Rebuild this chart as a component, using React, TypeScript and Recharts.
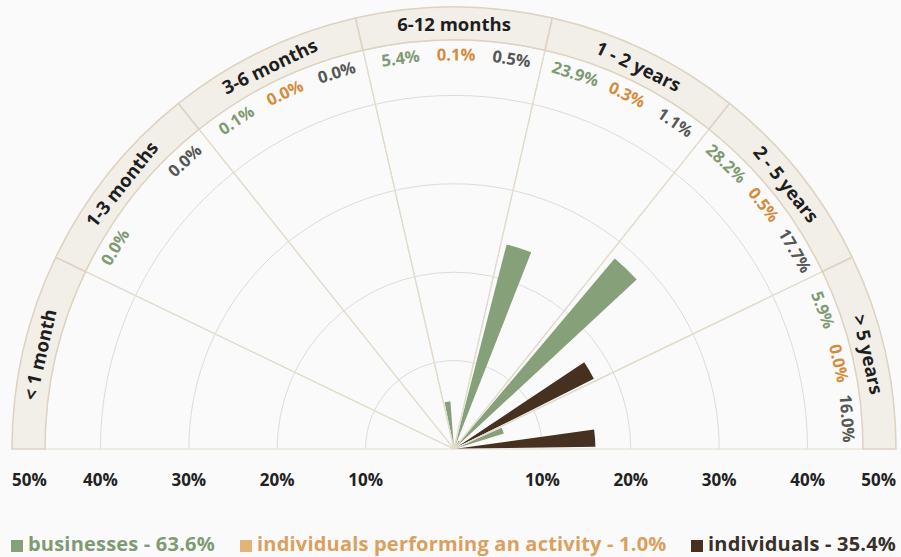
import React from 'react';
import {
  RadialBarChart,
  RadialBar,
  PolarGrid,
  PolarAngleAxis,
  PolarRadiusAxis,
  LabelList,
  PieChart,
  Pie,
} from 'recharts';

// ---- data ----
const categories = ['< 1 month', '1-3 months', '3-6 months', '6-12 months', '1 - 2 years', '2 - 5 years', '> 5 years'];
const businesses = [null, 0.0, 0.1, 5.4, 23.9, 28.2, 5.9];
const activity = [null, null, 0.0, 0.1, 0.3, 0.5, 0.0];
const individuals = [null, 0.0, 0.0, 0.5, 1.1, 17.7, 16.0];
const radiusTicks = [10, 20, 30, 40, 50];
const legendLabels = ['businesses - 63.6%', 'individuals performing an activity - 1.0%', 'individuals - 35.4%'];

// ---- layout / style ----
const W = 901;
const H = 500;
const CX = 454;
const CY = 449;
const R_OUT = 442;
const R_BAND_IN = 409;
const R_VALUE = 395;
const FONT = "'Open Sans', 'Noto Sans', sans-serif";
// angular width of one category sector; the bar chart's angle range is
// offset by one sector so that the first category band starts at 0°
const STEP = 180 / categories.length;

const C_GREEN = '#86a07a';
const C_ORANGE = '#e2b47c';
const C_DARK = '#46301f';
const T_GREEN = '#7f9b73';
const T_ORANGE = '#d68b3a';
const T_DARK = '#575757';

// bars are laid out on an ascending angle range, so the category order
// is reversed for the bar chart (">5 years" sits next to 0°)
const data = categories
  .map((cat, i) => ({
    cat,
    businesses: businesses[i],
    activity: activity[i],
    individuals: individuals[i],
  }))
  .reverse();
const bandData = categories.map((name) => ({ name, share: 1 }));

const RadiusTick = (props: any) => {
  const { x, y, payload } = props;
  const v = payload?.value;
  if (!v) return <g />;
  const dx = x - CX;
  const edge = v === 50;
  const style = { fontFamily: FONT, fontWeight: 700, fontSize: 17, fill: '#222' } as any;
  return (
    <g>
      <text x={x} y={y + 30} textAnchor={edge ? 'end' : 'middle'} dominantBaseline="central" style={style}>
        {`${v}%`}
      </text>
      <text x={CX - dx} y={y + 30} textAnchor={edge ? 'start' : 'middle'} dominantBaseline="central" style={style}>
        {`${v}%`}
      </text>
    </g>
  );
};

const makeValueLabel = (color: string) => (p: any) => {
  const { viewBox, value } = p;
  if (value === null || value === undefined || !viewBox) return null;
  const mid = (viewBox.startAngle + viewBox.endAngle) / 2;
  const a = (mid * Math.PI) / 180;
  const x = viewBox.cx + R_VALUE * Math.cos(a);
  const y = viewBox.cy - R_VALUE * Math.sin(a);
  return (
    <text
      x={x}
      y={y}
      transform={`rotate(${90 - mid} ${x} ${y})`}
      textAnchor="middle"
      dominantBaseline="central"
      style={{ fontFamily: FONT, fontWeight: 700, fontSize: 16.5, fill: color }}
    >
      {`${Number(value).toFixed(1)}%`}
    </text>
  );
};

const CategoryLabel = (p: any) => {
  const r = (p.innerRadius + p.outerRadius) / 2;
  const mid = p.midAngle;
  const a = (mid * Math.PI) / 180;
  const x = p.cx + r * Math.cos(a);
  const y = p.cy - r * Math.sin(a);
  const name = p.name ?? p.payload?.name;
  return (
    <text
      x={x}
      y={y}
      transform={`rotate(${90 - mid} ${x} ${y})`}
      textAnchor="middle"
      dominantBaseline="central"
      style={{ fontFamily: FONT, fontWeight: 700, fontSize: 18.5, fill: '#1e1e1e' }}
    >
      {name}
    </text>
  );
};

const legendColors = [
  { box: C_GREEN, text: T_GREEN, left: 11 },
  { box: C_ORANGE, text: '#d9a05e', left: 240 },
  { box: C_DARK, text: '#3a3029', left: 691 },
];

export default function App() {
  return (
    <div style={{ position: 'absolute', left: 0, top: 0, width: 901, height: 557, background: '#fafafa', overflow: 'hidden' }}>
      <div style={{ position: 'absolute', left: 0, top: 0 }}>
        <RadialBarChart
          width={W}
          height={H}
          data={data}
          layout="centric"
          cx={CX}
          cy={CY}
          innerRadius={0}
          outerRadius={R_OUT}
          startAngle={STEP}
          endAngle={180 + STEP}
          barCategoryGap="3.7%"
          barGap={1.1}
          margin={{ top: 0, right: 0, bottom: 0, left: 0 }}
        >
          <defs>
            <clipPath id="upperHalf">
              <rect x={0} y={0} width={W} height={CY} />
            </clipPath>
          </defs>
          <PolarAngleAxis type="category" dataKey="cat" tick={false} axisLine={false} tickLine={false} />
          <PolarRadiusAxis
            type="number"
            domain={[0, 50]}
            ticks={radiusTicks}
            tickCount={6}
            angle={0}
            axisLine={false}
            tickLine={false}
            tick={<RadiusTick />}
          />
          <PolarGrid gridType="circle" radialLines={false} stroke="#dcdcdc" clipPath="url(#upperHalf)" />
          <RadialBar dataKey="individuals" fill={C_DARK} isAnimationActive={false}>
            <LabelList dataKey="individuals" content={makeValueLabel(T_DARK)} />
          </RadialBar>
          <RadialBar dataKey="activity" fill={C_ORANGE} isAnimationActive={false}>
            <LabelList dataKey="activity" content={makeValueLabel(T_ORANGE)} />
          </RadialBar>
          <RadialBar dataKey="businesses" fill={C_GREEN} isAnimationActive={false}>
            <LabelList dataKey="businesses" content={makeValueLabel(T_GREEN)} />
          </RadialBar>
        </RadialBarChart>
      </div>
      <div style={{ position: 'absolute', left: 0, top: 0, pointerEvents: 'none' }}>
        <PieChart width={W} height={H} margin={{ top: 0, right: 0, bottom: 0, left: 0 }}>
          <Pie
            data={bandData}
            dataKey="share"
            nameKey="name"
            cx={CX}
            cy={CY}
            innerRadius={0}
            outerRadius={R_BAND_IN}
            startAngle={180}
            endAngle={0}
            fill="none"
            stroke="#e3dccd"
            strokeWidth={1.2}
            isAnimationActive={false}
          />
          <Pie
            data={bandData}
            dataKey="share"
            nameKey="name"
            cx={CX}
            cy={CY}
            innerRadius={R_BAND_IN}
            outerRadius={R_OUT}
            startAngle={180}
            endAngle={0}
            fill="#f2eee8"
            stroke="#ddd3c0"
            strokeWidth={1.5}
            label={CategoryLabel}
            labelLine={false}
            isAnimationActive={false}
          />
        </PieChart>
      </div>
      {legendLabels.map((label, i) => (
        <div
          key={label}
          style={{
            position: 'absolute',
            left: legendColors[i].left,
            top: 533,
            height: 22,
            lineHeight: '22px',
            display: 'flex',
            alignItems: 'center',
            fontFamily: FONT,
            fontWeight: 700,
            fontSize: 20,
            letterSpacing: 0.2,
            color: legendColors[i].text,
            whiteSpace: 'nowrap',
          }}
        >
          <span style={{ display: 'inline-block', width: 12, height: 12, background: legendColors[i].box, marginRight: 5, marginTop: 3 }} />
          <span>{label}</span>
        </div>
      ))}
    </div>
  );
}
